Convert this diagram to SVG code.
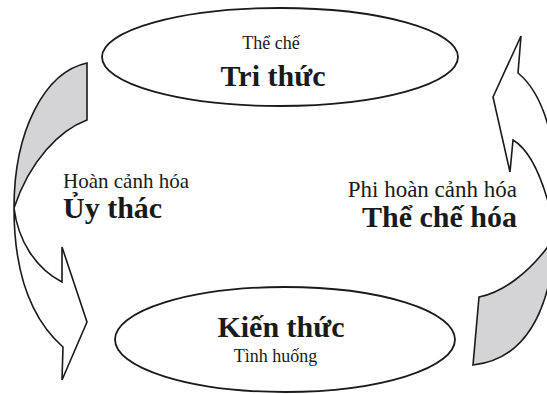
<svg xmlns="http://www.w3.org/2000/svg" width="547" height="394" viewBox="0 0 547 394">
<style>
.node{fill:#ffffff;stroke:#1a1a1a;stroke-width:1.8}
.arr{fill:#ffffff;stroke:#1a1a1a;stroke-width:1.6;stroke-linejoin:miter}
.back{fill:#d4d4d6;stroke:#1a1a1a;stroke-width:1.6;stroke-linejoin:miter}
text{font-family:"Liberation Serif","Times New Roman","DejaVu Serif",serif;fill:#1a1a1a}
.sm{font-size:18px}
.mdl{font-size:21px}
.mdr{font-size:23px}
.bd{font-size:30px;font-weight:bold}
</style>
<rect width="547" height="394" fill="#ffffff"/>
<g id="connectors">
  <g id="arrow-left">
    <path class="back" d="M87,63 L87,120 C60,130 30,160 14,208 C14,130 45,72 87,63 Z"/>
    <path class="arr" d="M14,208 C18,240 35,268 62,282 L62,247 L87,322 L62,380 L63,347 C30,318 14,270 14,208 Z"/>
  </g>
  <g id="arrow-right">
    <path class="arr" d="M556,235 C545,180 530,150 513,140 L510,172 L493,97 L521,36 L518,73 C545,95 562,150 556,235 Z"/>
    <path class="back" d="M479,297 L473,365 C520,360 550,320 556,235 C530,275 500,293 479,297 Z"/>
  </g>
</g>
<g id="node-tri-thuc">
  <ellipse class="node" cx="280" cy="57" rx="178" ry="49"/>
  <text class="sm" x="271" y="49" text-anchor="middle">Thể chế</text>
  <text class="bd" x="273" y="86" text-anchor="middle">Tri thức</text>
</g>
<g id="node-kien-thuc">
  <ellipse class="node" cx="285" cy="339.5" rx="170" ry="52.5"/>
  <text class="bd" x="281" y="337" text-anchor="middle">Kiến thức</text>
  <text class="sm" x="275.5" y="362" text-anchor="middle">Tình huống</text>
</g>
<g id="label-left">
  <text class="mdl" x="63" y="188">Hoàn cảnh hóa</text>
  <text class="bd" x="63" y="218">Ủy thác</text>
</g>
<g id="label-right">
  <text class="mdr" x="517" y="197" text-anchor="end">Phi hoàn cảnh hóa</text>
  <text class="bd" x="517" y="227" text-anchor="end">Thể chế hóa</text>
</g>
</svg>
